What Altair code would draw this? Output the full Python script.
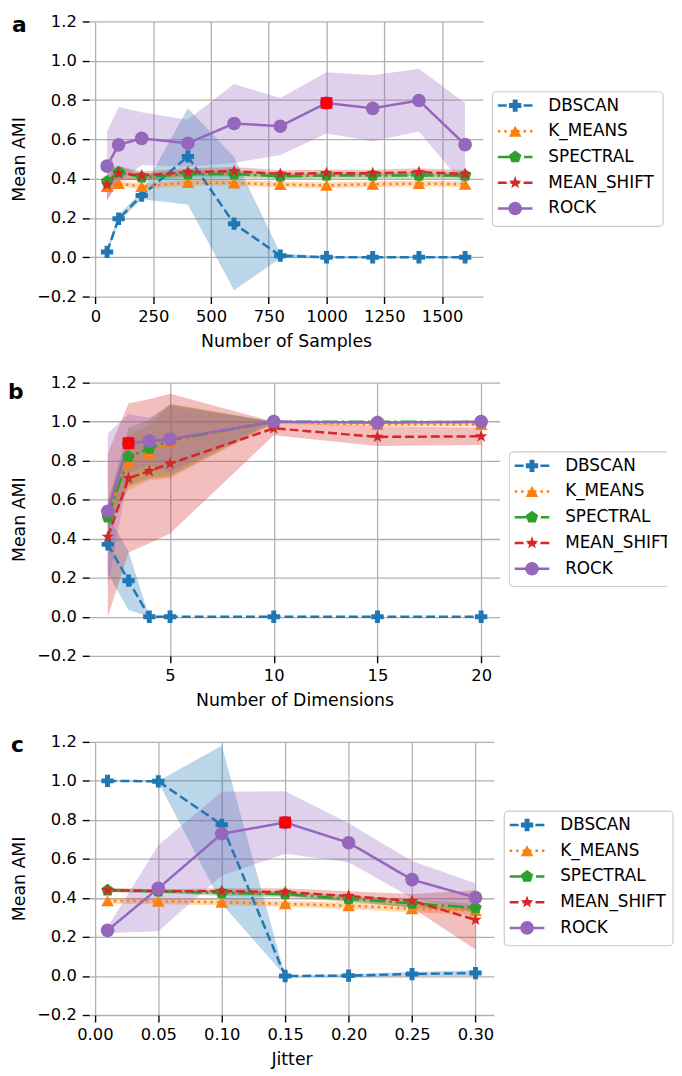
import altair as alt
import pandas as pd

METHODS = ["DBSCAN", "K_MEANS", "SPECTRAL", "MEAN_SHIFT", "ROCK"]
COLORS = ["#1f77b4", "#ff7f0e", "#2ca02c", "#d62728", "#9467bd"]
DASHES = [[9, 4], [2.5, 4], [16, 4, 2.5, 4], [9, 4], [1, 0]]
STAR = ("M0,-1L0.235,-0.324L0.951,-0.309L0.38,0.124L0.588,0.809L0,0.4"
        "L-0.588,0.809L-0.38,0.124L-0.951,-0.309L-0.235,-0.324Z")
PENTAGON = "M0,-1L0.951,-0.309L0.588,0.809L-0.588,0.809L-0.951,-0.309Z"
SHAPES = ["cross", "triangle-up", PENTAGON, STAR, "circle"]
SIZES = [155, 190, 165, 210, 160]
Y_TICKS = [-0.2, 0.0, 0.2, 0.4, 0.6, 0.8, 1.0, 1.2]

# ---- panel a : number of samples ----
A_X = [50, 100, 200, 400, 600, 800, 1000, 1200, 1400, 1600]
A_MEAN = {
    "DBSCAN": [0.027, 0.196, 0.314, 0.513, 0.171, 0.008, 0.0, 0.0, 0.0, 0.0],
    "K_MEANS": [0.36, 0.375, 0.36, 0.38, 0.378, 0.37, 0.366, 0.372, 0.375, 0.372],
    "SPECTRAL": [0.386, 0.433, 0.407, 0.424, 0.424, 0.412, 0.416, 0.416, 0.416, 0.416],
    "MEAN_SHIFT": [0.369, 0.428, 0.416, 0.433, 0.438, 0.424, 0.428, 0.428, 0.433, 0.424],
    "ROCK": [0.464, 0.572, 0.605, 0.58, 0.681, 0.667, 0.785, 0.758, 0.798, 0.573],
}
A_LO = {
    "DBSCAN": [0.01, 0.18, 0.295, 0.268, -0.168, -0.005, -0.005, -0.005, -0.005, -0.005],
    "K_MEANS": [0.34, 0.36, 0.345, 0.365, 0.363, 0.355, 0.351, 0.357, 0.36, 0.357],
    "SPECTRAL": [0.36, 0.40, 0.39, 0.405, 0.405, 0.397, 0.40, 0.40, 0.40, 0.40],
    "MEAN_SHIFT": [0.29, 0.39, 0.395, 0.413, 0.415, 0.405, 0.41, 0.41, 0.413, 0.405],
    "ROCK": [0.29, 0.38, 0.47, 0.46, 0.48, 0.52, 0.63, 0.59, 0.64, 0.36],
}
A_HI = {
    "DBSCAN": [0.045, 0.215, 0.335, 0.758, 0.51, 0.02, 0.005, 0.005, 0.005, 0.005],
    "K_MEANS": [0.38, 0.39, 0.375, 0.395, 0.393, 0.385, 0.381, 0.387, 0.39, 0.387],
    "SPECTRAL": [0.41, 0.465, 0.425, 0.443, 0.443, 0.427, 0.432, 0.432, 0.432, 0.432],
    "MEAN_SHIFT": [0.45, 0.465, 0.437, 0.453, 0.46, 0.443, 0.446, 0.446, 0.453, 0.443],
    "ROCK": [0.637, 0.765, 0.738, 0.70, 0.882, 0.81, 0.942, 0.926, 0.959, 0.785],
}
A_BEST = (1000, 0.785)

# ---- panel b : number of dimensions ----
B_X = [2, 3, 4, 5, 10, 15, 20]
B_MEAN = {
    "DBSCAN": [0.371, 0.185, 0.0, 0.0, 0.0, 0.0, 0.0],
    "K_MEANS": [0.53, 0.79, 0.84, 0.90, 1.0, 0.985, 0.985],
    "SPECTRAL": [0.51, 0.82, 0.862, 0.905, 1.0, 1.0, 0.998],
    "MEAN_SHIFT": [0.41, 0.71, 0.747, 0.785, 0.966, 0.922, 0.925],
    "ROCK": [0.541, 0.89, 0.90, 0.91, 1.0, 0.995, 1.0],
}
B_LO = {
    "DBSCAN": [0.22, 0.035, 0.0, 0.0, 0.0, 0.0, 0.0],
    "K_MEANS": [0.46, 0.65, 0.70, 0.71, 0.99, 0.975, 0.975],
    "SPECTRAL": [0.44, 0.67, 0.71, 0.72, 0.995, 0.995, 0.99],
    "MEAN_SHIFT": [0.0, 0.33, 0.377, 0.427, 0.93, 0.875, 0.88],
    "ROCK": [0.15, 0.74, 0.78, 0.74, 1.0, 0.99, 1.0],
}
B_HI = {
    "DBSCAN": [0.52, 0.335, 0.0, 0.0, 0.0, 0.0, 0.0],
    "K_MEANS": [0.60, 0.93, 0.98, 1.09, 1.0, 0.995, 0.995],
    "SPECTRAL": [0.58, 0.97, 1.01, 1.09, 1.0, 1.0, 1.0],
    "MEAN_SHIFT": [0.84, 1.095, 1.115, 1.143, 1.0, 0.975, 0.97],
    "ROCK": [0.94, 1.04, 1.02, 1.08, 1.0, 1.0, 1.0],
}
B_BEST = (3, 0.89)

# ---- panel c : jitter ----
C_X = [0.01, 0.05, 0.1, 0.15, 0.2, 0.25, 0.3]
C_MEAN = {
    "DBSCAN": [1.0, 0.998, 0.775, 0.0, 0.002, 0.01, 0.015],
    "K_MEANS": [0.385, 0.383, 0.378, 0.37, 0.36, 0.345, 0.335],
    "SPECTRAL": [0.44, 0.435, 0.425, 0.42, 0.395, 0.372, 0.35],
    "MEAN_SHIFT": [0.44, 0.435, 0.435, 0.43, 0.41, 0.385, 0.288],
    "ROCK": [0.234, 0.449, 0.729, 0.787, 0.683, 0.494, 0.402],
}
C_LO = {
    "DBSCAN": [1.0, 0.995, 0.37, 0.0, -0.005, 0.0, 0.0],
    "K_MEANS": [0.37, 0.368, 0.363, 0.355, 0.343, 0.325, 0.315],
    "SPECTRAL": [0.43, 0.425, 0.41, 0.405, 0.378, 0.352, 0.33],
    "MEAN_SHIFT": [0.43, 0.425, 0.42, 0.41, 0.385, 0.35, 0.136],
    "ROCK": [0.22, 0.23, 0.515, 0.627, 0.583, 0.40, 0.33],
}
C_HI = {
    "DBSCAN": [1.0, 1.0, 1.18, 0.0, 0.01, 0.02, 0.03],
    "K_MEANS": [0.40, 0.398, 0.393, 0.385, 0.377, 0.365, 0.355],
    "SPECTRAL": [0.45, 0.445, 0.44, 0.435, 0.412, 0.392, 0.37],
    "MEAN_SHIFT": [0.45, 0.445, 0.45, 0.45, 0.435, 0.42, 0.44],
    "ROCK": [0.25, 0.67, 0.945, 0.947, 0.783, 0.59, 0.475],
}
C_BEST = (0.15, 0.787)

FONT = "DejaVu Sans"
color_scale = alt.Scale(domain=METHODS, range=COLORS)
dash_scale = alt.Scale(domain=METHODS, range=DASHES)
shape_scale = alt.Scale(domain=METHODS, range=SHAPES)
size_scale = alt.Scale(domain=METHODS, range=SIZES)


def table(xs, mean, lo, hi):
    rows = []
    for k, m in enumerate(METHODS):
        for i, x in enumerate(xs):
            rows.append({"x": x, "method": m, "order": k,
                         "mean": mean[m][i], "lo": lo[m][i], "hi": hi[m][i]})
    return pd.DataFrame(rows)


def panel(df, best, xdom, xticks, xfmt, xtitle, width, height, label, label_dx, label_dy):
    xs = alt.Scale(domain=xdom, nice=False, zero=False)
    ys = alt.Scale(domain=[-0.2, 1.2], nice=False, zero=False)
    xax = alt.Axis(values=xticks, format=xfmt, title=xtitle)
    yax = alt.Axis(values=Y_TICKS, format=".1f", title="Mean AMI")
    base = alt.Chart(df)
    X = alt.X("x:Q", scale=xs, axis=xax)
    col = alt.Color("method:N", scale=color_scale, legend=None)
    band = base.mark_area(opacity=0.3).encode(
        x=X, y=alt.Y("lo:Q", scale=ys, axis=yax), y2="hi:Q", color=col,
        order=alt.Order("order:Q"))
    line = base.mark_line(strokeWidth=2.5).encode(
        x=X, y=alt.Y("mean:Q", scale=ys, axis=yax), color=col,
        strokeDash=alt.StrokeDash("method:N", scale=dash_scale, legend=None))
    pts = base.mark_point(filled=True, opacity=1).encode(
        x=X, y=alt.Y("mean:Q", scale=ys, axis=yax), color=col,
        shape=alt.Shape("method:N", scale=shape_scale, legend=None),
        size=alt.Size("method:N", scale=size_scale, legend=None))
    bdf = pd.DataFrame({"x": [best[0]], "mean": [best[1]]})
    sq = alt.Chart(bdf).mark_point(shape="square", filled=True, color="#ff0000",
                                   opacity=1, size=140).encode(
        x=X, y=alt.Y("mean:Q", scale=ys, axis=yax))
    ldf = pd.DataFrame({"label": [label]})
    lab = alt.Chart(ldf).mark_text(font=FONT, fontSize=22, fontWeight="bold",
                                   align="left", baseline="middle",
                                   color="black").encode(
        text="label:N", x=alt.value(label_dx), y=alt.value(label_dy))
    return alt.layer(band, line, pts, sq, lab).properties(width=width, height=height)


def legend(width, height, box_w, clip):
    ldf = pd.DataFrame({"method": METHODS, "row": list(range(len(METHODS)))})
    top = (height - 136) / 2.0
    d0 = -(top + 14) / 26.0
    ly = alt.Y("row:Q", axis=None,
               scale=alt.Scale(domain=[d0, d0 + height / 26.0], reverse=True,
                               nice=False, zero=False))
    col = alt.Color("method:N", scale=color_scale, legend=None)
    box = alt.Chart(pd.DataFrame({"b": [0]})).mark_rect(
        fill="white", stroke="#cccccc", strokeWidth=1.2, cornerRadius=4,
        clip=clip).encode(
        x=alt.value(0.5), x2=alt.value(box_w), y=alt.value(top), y2=alt.value(top + 136))
    seg = alt.Chart(ldf).mark_rule(strokeWidth=2.5).encode(
        x=alt.value(6), x2=alt.value(41), y=ly, color=col,
        strokeDash=alt.StrokeDash("method:N", scale=dash_scale, legend=None))
    mk = alt.Chart(ldf).mark_point(filled=True, opacity=1).encode(
        x=alt.value(23.5), y=ly, color=col,
        shape=alt.Shape("method:N", scale=shape_scale, legend=None),
        size=alt.Size("method:N", scale=size_scale, legend=None))
    tx = alt.Chart(ldf).mark_text(font=FONT, fontSize=17, align="left",
                                  baseline="middle", color="black", clip=clip).encode(
        x=alt.value(57), y=ly, text="method:N")
    return alt.layer(box, seg, mk, tx).properties(width=width, height=height)


dfa = table(A_X, A_MEAN, A_LO, A_HI)
dfb = table(B_X, B_MEAN, B_LO, B_HI)
dfc = table(C_X, C_MEAN, C_LO, C_HI)

row_a = alt.hconcat(
    panel(dfa, A_BEST, [-27.5, 1677.5], [0, 250, 500, 750, 1000, 1250, 1500], "d",
          "Number of Samples", 398, 278, "a", -78, 4),
    legend(174, 278, 173, False), spacing=8)
row_b = alt.hconcat(
    panel(dfb, B_BEST, [1.1, 20.9], [5, 10, 15, 20], "d",
          "Number of Dimensions", 415, 276, "b", -82, 10),
    legend(160, 276, 175, True), spacing=9)
row_c = alt.hconcat(
    panel(dfc, C_BEST, [-0.0045, 0.3145], [0, 0.05, 0.1, 0.15, 0.2, 0.25, 0.3], ".2f",
          "Jitter", 409, 276, "c", -79, 3),
    legend(172, 276, 171, False), spacing=9)

chart = alt.vconcat(row_a, row_b, row_c, spacing=25, padding=0).configure_view(
    stroke=None).configure_axis(
    grid=True, gridColor="#b0b0b0", gridWidth=1.3, domain=False,
    ticks=True, tickColor="black", tickSize=7, tickWidth=1.4,
    labelFont=FONT, labelFontSize=16.5, labelColor="black",
    labelOverlap=False,
    titleFont=FONT, titleFontSize=17.5, titleColor="black", titleFontWeight="normal"
).configure_axisX(labelPadding=5, titlePadding=7.5).configure_axisY(
    labelPadding=6, titlePadding=8)

chart.save("out.html", embed_options={"renderer": "svg", "actions": False})
